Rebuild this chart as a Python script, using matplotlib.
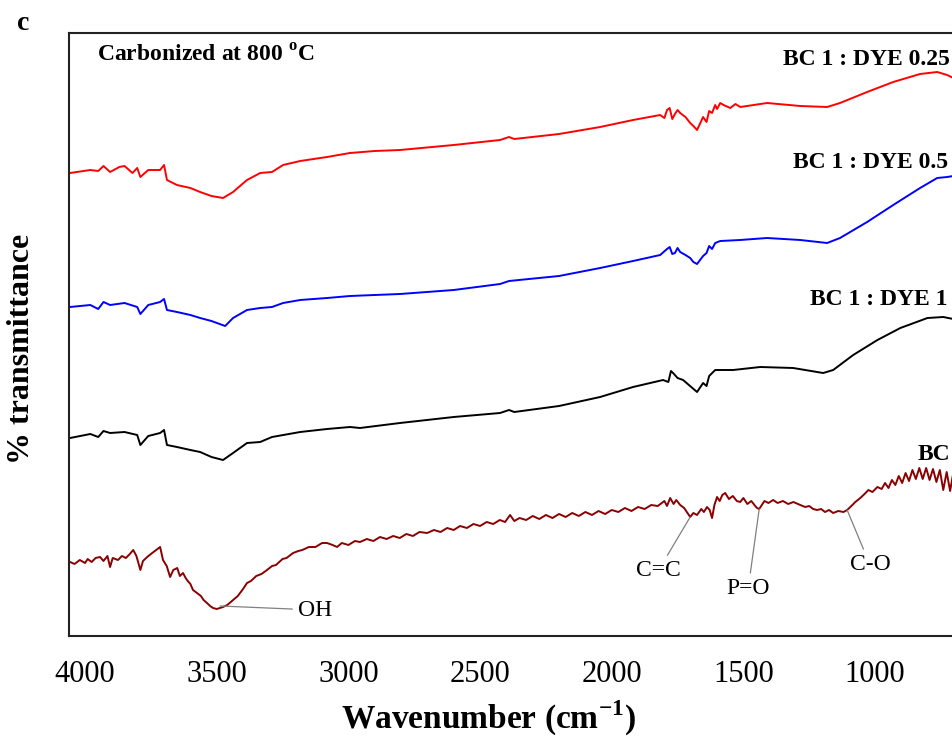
import matplotlib
matplotlib.use("Agg")
import matplotlib.pyplot as plt

plt.rcParams['font.family'] = ['Liberation Serif', 'DejaVu Serif']
plt.rcParams['mathtext.fontset'] = 'custom'
plt.rcParams['mathtext.rm'] = 'Liberation Serif'
plt.rcParams['mathtext.bf'] = 'Liberation Serif:bold'

# FTIR spectra (relative transmittance, offset for clarity)
wn_025 = [4057, 3980, 3950, 3930, 3905, 3870, 3850, 3820, 3802, 3790, 3760, 3715, 3700, 3689,
          3651, 3600, 3563, 3520, 3476, 3438, 3385, 3335, 3290, 3248, 3183, 3081, 2994, 2900,
          2804, 2600, 2424, 2390, 2370, 2200, 2044, 1919, 1816, 1800, 1790, 1780, 1770, 1760,
          1750, 1740, 1720, 1702, 1690, 1676, 1653, 1640, 1630, 1619, 1607, 1600, 1588, 1575,
          1550, 1530, 1512, 1410, 1284, 1182, 1133, 1030, 931, 829, 764, 726, 703]
t_025 = [463, 466, 465, 470, 464, 469, 470, 463, 468, 459, 466, 466, 471, 456,
         451, 448, 444, 440, 438, 444, 456, 463, 464, 471, 475, 479, 483, 485,
         486, 491, 496, 499, 497, 502, 509, 516, 521, 518, 526, 528, 517, 522,
         526, 523, 519, 513, 510, 506, 519, 514, 525, 523, 531, 527, 533, 531,
         528, 532, 529, 533, 530, 529, 533, 544, 554, 562, 564, 561, 558]

wn_05 = [4057, 3980, 3950, 3930, 3905, 3850, 3802, 3790, 3760, 3715, 3700, 3689, 3651, 3600,
         3563, 3520, 3468, 3438, 3385, 3335, 3290, 3248, 3183, 3081, 2994, 2900, 2804, 2600,
         2424, 2390, 2200, 2044, 1919, 1816, 1790, 1780, 1770, 1760, 1750, 1740, 1720, 1702,
         1690, 1676, 1653, 1640, 1630, 1619, 1607, 1588, 1512, 1410, 1284, 1182, 1133, 1030,
         931, 829, 764, 726, 703]
t_05 = [329, 331, 327, 334, 331, 333, 329, 322, 331, 334, 337, 326, 324, 321,
        318, 315, 310, 318, 326, 328, 329, 333, 336, 338, 340, 341, 342, 346,
        352, 355, 360, 368, 375, 381, 387, 389, 382, 383, 388, 384, 381, 378,
        374, 372, 380, 383, 390, 387, 393, 395, 396, 398, 396, 393, 398, 414,
        431, 448, 458, 459, 460]

wn_1 = [4057, 3980, 3950, 3930, 3905, 3850, 3802, 3790, 3760, 3715, 3700, 3689, 3651, 3600,
        3563, 3520, 3476, 3438, 3385, 3335, 3290, 3183, 3081, 2994, 2956, 2804, 2600, 2424,
        2390, 2370, 2200, 2044, 1919, 1805, 1785, 1775, 1767, 1750, 1729, 1676, 1653, 1640,
        1630, 1607, 1539, 1436, 1311, 1197, 1159, 1083, 991, 904, 801, 741, 703]
t_1 = [198, 202, 199, 205, 203, 204, 201, 191, 200, 203, 206, 191, 189, 186,
       184, 179, 176, 183, 193, 194, 199, 204, 207, 209, 208, 213, 219, 223,
       226, 224, 230, 239, 249, 256, 254, 265, 263, 258, 256, 244, 253, 250,
       260, 266, 266, 269, 268, 263, 266, 281, 296, 308, 318, 319, 317]

wn_bc = [4057, 4040, 4020, 4000, 3990, 3975, 3960, 3943, 3930, 3915, 3905, 3895, 3875, 3860,
         3845, 3830, 3817, 3805, 3790, 3780, 3764, 3750, 3735, 3715, 3704, 3690, 3677, 3665,
         3650, 3640, 3628, 3618, 3610, 3600, 3590, 3575, 3560, 3550, 3537, 3525, 3514, 3500,
         3476, 3460, 3438, 3420, 3400, 3385, 3370, 3350, 3330, 3309, 3290, 3275, 3250, 3235,
         3210, 3190, 3175, 3150, 3125, 3100, 3081, 3060, 3043, 3025, 3000, 2975, 2956, 2930,
         2905, 2880, 2855, 2830, 2805, 2780, 2755, 2730, 2701, 2675, 2650, 2625, 2600, 2576,
         2550, 2525, 2500, 2475, 2450, 2425, 2405, 2386, 2370, 2350, 2325, 2300, 2275, 2250,
         2225, 2200, 2175, 2150, 2125, 2100, 2075, 2050, 2025, 2000, 1975, 1950, 1925, 1900,
         1875, 1850, 1825, 1800, 1790, 1778, 1765, 1755, 1740, 1725, 1715, 1702, 1690, 1676,
         1660, 1650, 1638, 1628, 1619, 1610, 1600, 1590, 1580, 1569, 1555, 1540, 1525, 1512,
         1500, 1485, 1470, 1455, 1448, 1440, 1430, 1420, 1405, 1387, 1370, 1350, 1330, 1310,
         1284, 1265, 1250, 1235, 1220, 1205, 1190, 1175, 1159, 1140, 1120, 1106, 1090, 1075,
         1056, 1040, 1025, 1010, 991, 975, 962, 949, 936, 923, 910, 897, 884, 871, 858,
         845, 832, 819, 806, 793, 780, 767, 754, 741, 728, 715, 705]
t_bc = [74, 72, 76, 73, 77, 74, 78, 79, 75, 80, 69, 78, 76, 80,
        78, 82, 86, 80, 66, 75, 79, 82, 85, 89, 76, 70, 59, 66,
        68, 60, 63, 58, 55, 52, 46, 43, 40, 36, 33, 30, 28, 27,
        29, 31, 36, 40, 47, 53, 55, 60, 62, 66, 70, 71, 77, 78,
        83, 85, 86, 89, 89, 93, 93, 91, 89, 93, 91, 95, 94, 97,
        95, 99, 97, 100, 98, 102, 100, 104, 103, 106, 104, 108, 106, 110,
        108, 112, 110, 114, 112, 116, 114, 121, 115, 118, 116, 120, 117, 121,
        118, 122, 119, 123, 120, 124, 121, 125, 122, 126, 124, 128, 125, 129,
        127, 131, 130, 135, 130, 138, 132, 136, 131, 128, 124, 119, 123, 121,
        127, 124, 129, 126, 118, 131, 139, 135, 141, 143, 137, 140, 135, 134,
        138, 132, 135, 130, 128, 127, 131, 135, 133, 136, 133, 135, 132, 134,
        131, 129, 130, 127, 126, 127, 124, 126, 123, 125, 124, 126, 130, 134,
        138, 142, 146, 144, 149, 147, 153, 148, 156, 151, 160, 153, 163, 155, 166,
        157, 168, 157, 168, 156, 167, 154, 166, 146, 164, 145, 160]

series = [
    (wn_025, t_025, '#ff0000'),
    (wn_05, t_05, '#0000ff'),
    (wn_1, t_1, '#000000'),
    (wn_bc, t_bc, '#8b0000'),
]

W, H = 953, 740
fig = plt.figure(figsize=(W / 100, H / 100), dpi=100)
ax = fig.add_axes([69 / W, 1 - 636 / H, 1 - 69 / W, (636 - 33) / H])

for wn, t, c in series:
    ax.plot(wn, t, color=c, lw=1.4)

ax.set_xlim(4061, 704)
ax.set_ylim(0, 603)
ax.set_xticks([4000, 3500, 3000, 2500, 2000, 1500, 1000])
ax.set_yticks([])
ax.tick_params(axis='x', length=0, pad=17, labelsize=22)
ax.spines['right'].set_visible(False)
for s in ['left', 'bottom', 'top']:
    ax.spines[s].set_linewidth(1.5)
    ax.spines[s].set_color('#222222')

def fx(px):
    return px / W

def fy(py):
    return 1 - py / H

fig.text(fx(488), fy(718), r"Wavenumber (cm$^{\mathbf{-1}}$)", fontsize=24,
         fontweight='bold', ha='center', va='center')
fig.text(fx(22), fy(349), "% transmittance", fontsize=23, fontweight='bold',
         rotation=90, ha='center', va='center')
fig.text(fx(17), fy(30), "c", fontsize=20, fontweight='bold', ha='left', va='baseline')
fig.text(fx(97), fy(62), r"Carbonized at 800 $^{\mathbf{o}}$C", fontsize=17,
         fontweight='bold', ha='left', va='baseline')

fig.text(fx(950), fy(65), "BC 1 : DYE 0.25", fontsize=17, fontweight='bold',
         ha='right', va='baseline')
fig.text(fx(948), fy(168), "BC 1 : DYE 0.5", fontsize=17, fontweight='bold',
         ha='right', va='baseline')
fig.text(fx(948), fy(305), "BC 1 : DYE 1", fontsize=17, fontweight='bold',
         ha='right', va='baseline')
fig.text(fx(950), fy(460), "BC", fontsize=17, fontweight='bold',
         ha='right', va='baseline')

peaks = [
    ("OH", 3487, 30, 3127, 26),
    ("C=C", 1702, 119, 1824, 65),
    ("P=O", 1440, 127, 1482, 47),
    ("C-O", 1106, 126, 1019, 71),
]
for name, x0, y0, xt, yt in peaks:
    ax.annotate(name, xy=(x0, y0), xytext=(xt, yt), fontsize=17,
                ha='center', va='center',
                arrowprops=dict(arrowstyle='-', color='#808080', lw=0.9,
                                shrinkA=2, shrinkB=0))

fig.savefig("out.png", dpi=100)
